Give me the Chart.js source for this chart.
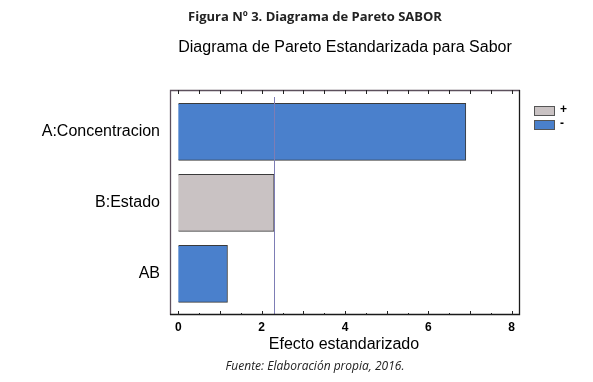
<!DOCTYPE html>
<html>
<head>
<meta charset="utf-8">
<script src="https://cdn.jsdelivr.net/npm/chart.js@4/dist/chart.umd.min.js"></script>
<style>
  html, body { margin: 0; padding: 0; background: #fff; }
  #wrap { width: 593px; height: 382px; }
</style>
</head>
<body>
<div id="wrap"><canvas id="chart"></canvas></div>
<script>
const categories = ['A:Concentracion', 'B:Estado', 'AB'];
const effects = [6.90, 2.30, 1.18];
const effectSigns = ['-', '+', '-'];
const seriesLabels = ['+', '-'];
const xTicks = [0, 2, 4, 6, 8];
const critical = 2.306;

const signColor = { '+': '#c9c2c3', '-': '#4a80cc' };

// frame, inward ticks, reference line, legend and texts
const decor = {
  id: 'decor',
  afterDatasetsDraw(chart) {
    const ctx = chart.ctx;
    const a = chart.chartArea;
    const xs = chart.scales.x;
    ctx.save();

    // critical value line
    const cx = Math.round(xs.getPixelForValue(critical)) + 0.5;
    ctx.strokeStyle = '#7d7db5';
    ctx.lineWidth = 1;
    ctx.beginPath();
    ctx.moveTo(cx, a.top + 7);
    ctx.lineTo(cx, a.bottom);
    ctx.stroke();

    // frame
    ctx.lineWidth = 1.3;
    ctx.strokeStyle = '#5d505d';
    ctx.beginPath();
    ctx.moveTo(a.left + 0.5, a.bottom);
    ctx.lineTo(a.left + 0.5, a.top + 0.5);
    ctx.lineTo(a.right, a.top + 0.5);
    ctx.stroke();
    ctx.strokeStyle = '#1a1a1a';
    ctx.beginPath();
    ctx.moveTo(a.right - 0.5, a.top);
    ctx.lineTo(a.right - 0.5, a.bottom - 0.5);
    ctx.lineTo(a.left, a.bottom - 0.5);
    ctx.stroke();

    // inward ticks top and bottom
    ctx.lineWidth = 1;
    ctx.strokeStyle = '#222';
    for (let v = 0; v <= 8; v += 0.5) {
      const px = Math.round(xs.getPixelForValue(v)) + 0.5;
      const len = Number.isInteger(v) ? 4 : 2;
      ctx.beginPath();
      ctx.moveTo(px, a.bottom);
      ctx.lineTo(px, a.bottom - len);
      ctx.moveTo(px, a.top);
      ctx.lineTo(px, a.top + 4);
      ctx.stroke();
    }

    // legend
    seriesLabels.forEach((lab, i) => {
      const y = 106 + i * 14;
      ctx.fillStyle = signColor[lab];
      ctx.fillRect(534, y, 20, 9);
      ctx.strokeStyle = '#555';
      ctx.strokeRect(534.5, y + 0.5, 20, 9);
      ctx.fillStyle = '#000';
      ctx.font = 'bold 12px "Liberation Sans", Arial, sans-serif';
      ctx.textAlign = 'left';
      ctx.textBaseline = 'middle';
      ctx.fillText(lab, 560, y + 4);
    });

    // texts
    ctx.fillStyle = '#222';
    ctx.textAlign = 'center';
    ctx.textBaseline = 'middle';
    ctx.font = 'bold 13px "Open Sans", sans-serif';
    ctx.fillText('Figura Nº 3. Diagrama de Pareto SABOR', 315, 17);
    ctx.fillStyle = '#000';
    ctx.font = '16px "Liberation Sans", Arial, sans-serif';
    ctx.fillText('Diagrama de Pareto Estandarizada para Sabor', 345, 48);
    ctx.fillText('Efecto estandarizado', 344, 345);
    ctx.fillStyle = '#222';
    ctx.font = 'italic 12px "Open Sans", sans-serif';
    ctx.fillText('Fuente: Elaboración propia, 2016.', 315, 367);
    ctx.restore();
  }
};

new Chart(document.getElementById('chart'), {
  type: 'bar',
  data: {
    datasets: [{
      label: 'Efecto',
      data: effects.map((v, i) => ({ x: v, y: i })),
      backgroundColor: effectSigns.map(s => signColor[s]),
      borderColor: '#3a3a3a',
      borderWidth: 1,
      barThickness: 57
    }]
  },
  options: {
    indexAxis: 'y',
    responsive: true,
    maintainAspectRatio: false,
    animation: false,
    layout: { padding: { left: 0, right: 73, top: 90, bottom: 47 } },
    plugins: { legend: { display: false }, tooltip: { enabled: false } },
    scales: {
      x: {
        type: 'linear',
        min: -0.2,
        max: 8.2,
        grid: { display: false, drawTicks: false },
        border: { display: false },
        afterBuildTicks: s => { s.ticks = xTicks.map(v => ({ value: v })); },
        afterFit: s => { s.height = 20; },
        ticks: {
          padding: 5,
          color: '#000',
          autoSkip: false,
          maxRotation: 0,
          font: { family: '"Liberation Sans", Arial, sans-serif', size: 12, weight: 'bold' }
        }
      },
      y: {
        type: 'linear',
        reverse: true,
        offset: false,
        min: -0.59,
        max: 2.58,
        grid: { display: false, drawTicks: false, offset: false },
        border: { display: false },
        afterBuildTicks: s => { s.ticks = categories.map((c, i) => ({ value: i })); },
        afterFit: s => { s.width = 170; },
        ticks: {
          padding: 10,
          color: '#000',
          autoSkip: false,
          callback: v => categories[v],
          font: { family: '"Liberation Sans", Arial, sans-serif', size: 16 }
        }
      }
    }
  },
  plugins: [decor]
});
</script>
</body>
</html>
